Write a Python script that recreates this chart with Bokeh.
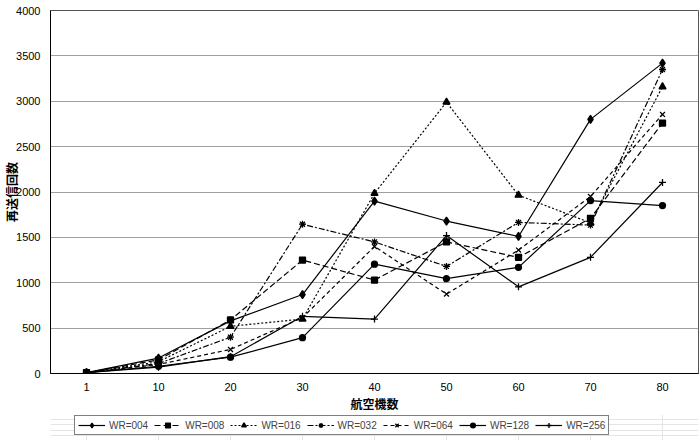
from bokeh.plotting import figure
from bokeh.models import Legend, LegendItem, FixedTicker, Range1d
from bokeh.layouts import column
from bokeh.embed import file_html
from bokeh.resources import INLINE

cats = ["1", "10", "20", "30", "40", "50", "60", "70", "80"]
wr004 = [10, 170, 580, 870, 1900, 1680, 1510, 2800, 3420]
wr008 = [10, 150, 590, 1250, 1030, 1450, 1280, 1710, 2760]
wr016 = [10, 130, 520, 600, 1985, 2990, 1965, 1660, 3160]
wr032 = [10, 110, 400, 1645, 1450, 1180, 1665, 1635, 3350]
wr064 = [10, 100, 265, 615, 1400, 875, 1360, 1950, 2855]
wr128 = [10, 80, 180, 395, 1205, 1045, 1170, 1905, 1850]
wr256 = [10, 70, 185, 630, 600, 1520, 955, 1280, 2105]
names = ["WR=004", "WR=008", "WR=016", "WR=032", "WR=064", "WR=128", "WR=256"]
y_ticks = [0, 500, 1000, 1500, 2000, 2500, 3000, 3500, 4000]

series = [wr004, wr008, wr016, wr032, wr064, wr128, wr256]
markers = ["diamond", "square", "triangle", "asterisk", "x", "circle", "cross"]
sizes = [8, 6, 7, 7, 7, 6, 7]
dashes = ["solid", "6 3", "2 2", "6 2 2 2", "4 3", "solid", "solid"]

p = figure(width=700, height=414, x_range=cats, y_range=Range1d(0, 4000),
           output_backend="svg", toolbar_location=None,
           min_border_left=50, min_border_right=2, min_border_top=10,
           min_border_bottom=40)
p.background_fill_color = "white"
p.border_fill_color = "white"
p.outline_line_color = "#555555"

p.xgrid.grid_line_color = None
p.ygrid.grid_line_color = "#a0a0a0"
p.ygrid.grid_line_width = 1

p.yaxis.ticker = FixedTicker(ticks=y_ticks)
for ax in (p.xaxis[0], p.yaxis[0]):
    ax.major_tick_line_color = None
    ax.minor_tick_line_color = None
    ax.major_tick_out = 0
    ax.major_tick_in = 0
    ax.minor_tick_out = 0
    ax.minor_tick_in = 0
    ax.axis_line_color = "black"
    ax.major_label_text_font = "Liberation Sans"
    ax.major_label_text_font_size = "11px"
    ax.major_label_text_color = "black"
    ax.axis_label_text_font = "Noto Sans CJK JP"
    ax.axis_label_text_font_size = "12px"
    ax.axis_label_text_font_style = "bold"
    ax.axis_label_text_color = "black"

p.yaxis.axis_label = "再送信回数"
p.yaxis.major_label_standoff = 10
p.yaxis.axis_label_standoff = -7
p.xaxis.axis_label = "航空機数"
p.xaxis.major_label_standoff = 9
p.xaxis.axis_label_standoff = 1

# legend strip below the chart (same series, drawn out of view there)
lf = figure(width=700, height=26, x_range=cats, y_range=Range1d(-2, -1),
            output_backend="svg", toolbar_location=None,
            x_axis_location=None, y_axis_location=None,
            min_border=0)
lf.outline_line_color = None
lf.background_fill_color = "white"
lf.border_fill_color = "white"

items = []
for name, vals, m, s, d in zip(names, series, markers, sizes, dashes):
    p.line(cats, vals, line_color="black", line_width=1.2, line_dash=d)
    p.scatter(cats, vals, marker=m, size=s, fill_color="black",
              line_color="black", line_width=1.3)
    rl = lf.line(cats, vals, line_color="black", line_width=1.2, line_dash=d)
    rm = lf.scatter(cats, vals, marker=m, size=s, fill_color="black",
                    line_color="black", line_width=1.3)
    items.append(LegendItem(label=name, renderers=[rl, rm]))

legend = Legend(items=items, orientation="horizontal", location=(24, 5))
legend.label_text_font = "Liberation Sans"
legend.label_text_font_size = "10px"
legend.label_height = 12
legend.glyph_width = 27
legend.glyph_height = 12
legend.label_standoff = 4
legend.spacing = 6
legend.padding = 3
legend.margin = 0
legend.border_line_color = "black"
legend.border_line_width = 1
legend.background_fill_color = "white"
legend.background_fill_alpha = 1
lf.add_layout(legend, "center")

open("out.html", "w").write(file_html(column(p, lf, spacing=0), INLINE))
